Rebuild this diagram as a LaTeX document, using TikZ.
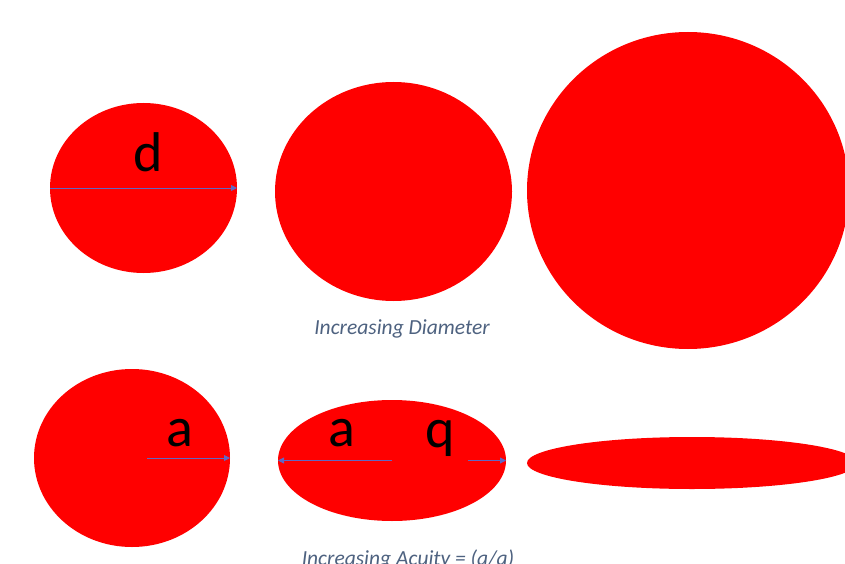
\documentclass[tikz,border=0pt]{standalone}
\usepackage{fontspec}
\setmainfont{Carlito}
\usetikzlibrary{arrows.meta,positioning,shapes.geometric}
\definecolor{blobred}{RGB}{255,0,0}
\definecolor{arrblue}{RGB}{96,104,196}
\definecolor{capblue}{RGB}{78,98,128}
\tikzset{
  blob/.style={ellipse, fill=blobred, draw=none, inner sep=0pt, outer sep=0pt},
  ar/.style={-{Triangle[length=6pt,width=6pt]}, draw=arrblue, line width=0.9pt},
  lbl/.style={font=\fontsize{56}{58}\selectfont, text=black, inner sep=0pt},
  captxt/.style={font=\fontsize{21.5}{24}\selectfont\itshape, text=capblue, inner sep=0pt},
}

\begin{document}
\begin{tikzpicture}[x=1pt,y=-1pt]
\useasboundingbox[fill=white] (0,0) rectangle (845,564);
\clip (0,0) rectangle (845,564);
% increasing diameter
\node[blob, minimum width=187, minimum height=170] (d1) at (143.5,188) {};
\node[blob, minimum width=237, minimum height=219] (d2) at (393.5,191.5) {};
\node[blob, minimum width=322, minimum height=317] (d3) at (688,190.5) {};
\node[lbl] (dl) at (148,152) {d};
\draw[ar] (d1.west) -- (d1.east);
\node[captxt] (capd) at (402,329) {Increasing Diameter};
% increasing acuity
\node[blob, minimum width=196, minimum height=178] (a1) at (132,458) {};
\node[blob, minimum width=228, minimum height=121] (a2) at (392,460.5) {};
\node[blob, minimum width=330, minimum height=52] (a3) at (692,463) {};
\node[lbl] (al1) at (180,433) {a};
\node[lbl] (al2) at (342,433) {a};
\node[lbl] (ql) at (440,438) {q};
\coordinate (s1) at (147,458);
\coordinate (s2) at (392,460.5);
\coordinate (s3) at (468,460.5);
\draw[ar] (s1) -- (a1.east);
\draw[ar] (s2) -- (a2.west);
\draw[ar] (s3) -- (a2.east);
\node[captxt] (capa) at (408,559) {Increasing Acuity = (a/q)};
\end{tikzpicture}
\end{document}
